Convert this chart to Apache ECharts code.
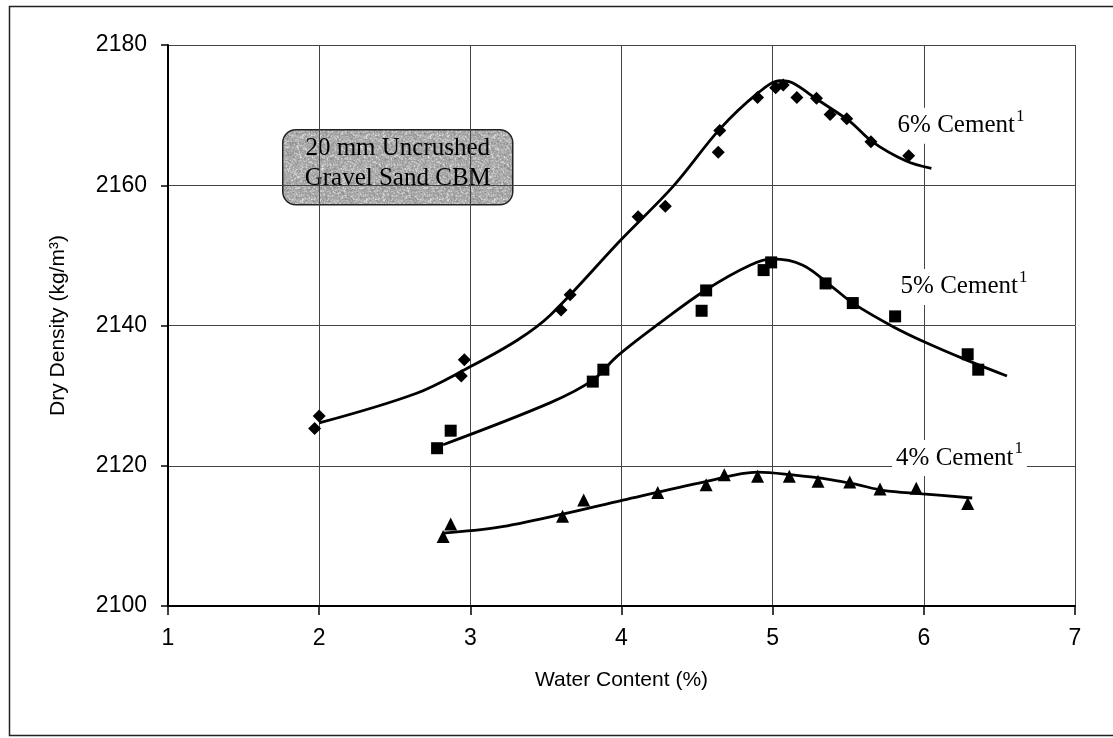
<!DOCTYPE html>
<html>
<head>
<meta charset="utf-8">
<script src="https://cdn.jsdelivr.net/npm/echarts@6/dist/echarts.min.js"></script>
<style>
  html, body { margin: 0; padding: 0; background: #ffffff; }
  #chart { width: 1113px; height: 738px; }
</style>
</head>
<body>
<div id="chart"></div>
<script>
// Measured points: [water content %, dry density kg/m³]
const cement6 = [[1.97, 2125.3], [2.00, 2127.1], [2.94, 2132.8], [2.96, 2135.1], [3.60, 2142.2], [3.66, 2144.4],
  [4.11, 2155.5], [4.29, 2157.0], [4.64, 2164.7], [4.65, 2167.8], [4.90, 2172.5], [5.02, 2173.9], [5.07, 2174.3],
  [5.16, 2172.5], [5.29, 2172.4], [5.38, 2170.1], [5.49, 2169.5], [5.65, 2166.2], [5.90, 2164.2]];
const cement5 = [[2.78, 2122.5], [2.87, 2125.0], [3.81, 2132.0], [3.88, 2133.7], [4.53, 2142.1], [4.56, 2145.0],
  [4.94, 2147.9], [4.99, 2149.0], [5.35, 2146.0], [5.53, 2143.2], [5.81, 2141.3], [6.29, 2135.9], [6.36, 2133.7]];
const cement4 = [[2.82, 2109.9], [2.87, 2111.7], [3.61, 2112.8], [3.75, 2115.1], [4.24, 2116.2], [4.56, 2117.3],
  [4.68, 2118.7], [4.90, 2118.5], [5.11, 2118.5], [5.30, 2117.8], [5.51, 2117.7], [5.71, 2116.7], [5.95, 2116.8],
  [6.29, 2114.6]];

// Compaction curves through each set
const fit6 = [[2.00, 2126.1], [2.64, 2130.3], [2.98, 2133.9], [3.31, 2137.9], [3.53, 2141.5], [4.00, 2152.3],
  [4.34, 2159.8], [4.65, 2168.0], [4.90, 2173.1], [5.05, 2174.9], [5.13, 2174.6], [5.29, 2172.3], [5.51, 2169.1],
  [5.66, 2166.2], [5.88, 2163.5], [6.05, 2162.4]];
const fit5 = [[2.82, 2123.0], [3.53, 2129.0], [3.81, 2132.2], [3.97, 2135.6], [4.25, 2140.3], [4.56, 2145.1],
  [4.85, 2148.6], [5.00, 2149.5], [5.20, 2148.6], [5.40, 2145.4], [5.53, 2143.2], [5.80, 2139.8], [6.02, 2137.5],
  [6.28, 2135.1], [6.55, 2132.8]];
const fit4 = [[2.82, 2110.4], [3.18, 2111.2], [3.61, 2113.1], [4.01, 2115.1], [4.55, 2117.7], [4.90, 2119.1],
  [5.13, 2118.7], [5.39, 2118.0], [5.56, 2117.3], [5.73, 2116.5], [5.99, 2116.0], [6.32, 2115.4]];

const curveNames = ['6% Cement', '5% Cement', '4% Cement'];
const footnoteMark = '1';
const boxLines = ['20 mm Uncrushed', 'Gravel Sand CBM'];
const xAxisTitle = 'Water Content (%)';
const yAxisTitle = 'Dry Density (kg/m³)';

// Speckled grey fill for the caption box
function grainTexture() {
  const c = document.createElement('canvas');
  c.width = 64; c.height = 64;
  const ctx = c.getContext('2d');
  const img = ctx.createImageData(64, 64);
  for (let j = 0; j < 64; j++) {
    for (let i = 0; i < 64; i++) {
      const h = Math.sin(i * 12.9898 + j * 78.233) * 43758.5453;
      const f = h - Math.floor(h);
      let g = 135 + f * 70;
      if (f > 0.93) g = 240;
      const k = (j * 64 + i) * 4;
      img.data[k] = img.data[k + 1] = img.data[k + 2] = g;
      img.data[k + 3] = 255;
    }
  }
  ctx.putImageData(img, 0, 0);
  return c;
}

const serif = '"Liberation Serif", "Times New Roman", serif';
const sans = '"Liberation Sans", Arial, sans-serif';

function curveLabel(text, coord) {
  return {
    symbol: 'circle',
    symbolSize: 0,
    silent: true,
    data: [{ coord: coord }],
    label: {
      show: true,
      position: 'right',
      distance: 0,
      formatter: '{a|' + text + '}{s|' + footnoteMark + '}',
      backgroundColor: '#ffffff',
      padding: [0, 4, 0, 4],
      rich: {
        a: { fontFamily: serif, fontSize: 25, lineHeight: 36, color: '#000' },
        s: { fontFamily: serif, fontSize: 17, lineHeight: 17, color: '#000', verticalAlign: 'top', padding: [0, 0, 0, 1] }
      }
    }
  };
}

const lineStyle = { color: '#000', width: 2.8 };
const markerStyle = { color: '#000', opacity: 1 };

const chart = echarts.init(document.getElementById('chart'), null, { renderer: 'canvas' });
chart.setOption({
  animation: false,
  backgroundColor: '#ffffff',
  grid: { left: 168, right: 38, top: 45, bottom: 132 },
  xAxis: {
    type: 'value', min: 1, max: 7, interval: 1,
    name: xAxisTitle, nameLocation: 'middle', nameGap: 64,
    nameTextStyle: { fontFamily: sans, fontSize: 21, color: '#000' },
    axisLine: { show: true, onZero: false, lineStyle: { color: '#000', width: 2 } },
    axisTick: { show: true, length: 9, lineStyle: { color: '#000', width: 1.5 } },
    axisLabel: { fontFamily: sans, fontSize: 23, color: '#000', margin: 21 },
    splitLine: { show: true, lineStyle: { color: '#444', width: 1 } }
  },
  yAxis: {
    type: 'value', min: 2100, max: 2180, interval: 20,
    name: yAxisTitle, nameLocation: 'middle', nameGap: 99,
    nameTextStyle: { fontFamily: sans, fontSize: 21, color: '#000' },
    axisLine: { show: true, lineStyle: { color: '#000', width: 2 } },
    axisTick: { show: true, length: 7, lineStyle: { color: '#000', width: 1.5 } },
    axisLabel: { fontFamily: sans, fontSize: 23, color: '#000', margin: 21, formatter: v => String(v) },
    splitLine: { show: true, lineStyle: { color: '#444', width: 1 } }
  },
  series: [
    { name: 'fit6', type: 'line', data: fit6, smooth: 0.35, symbol: 'none', lineStyle: lineStyle, z: 3,
      markPoint: curveLabel(curveNames[0], [5.80, 2168.5]) },
    { name: 'fit5', type: 'line', data: fit5, smooth: 0.35, symbol: 'none', lineStyle: lineStyle, z: 3,
      markPoint: curveLabel(curveNames[1], [5.82, 2145.5]) },
    { name: 'fit4', type: 'line', data: fit4, smooth: 0.35, symbol: 'none', lineStyle: lineStyle, z: 3,
      markPoint: curveLabel(curveNames[2], [5.79, 2121.1]) },
    { name: '6%', type: 'scatter', data: cement6, symbol: 'diamond', symbolSize: 13,
      itemStyle: markerStyle, z: 4 },
    { name: '5%', type: 'scatter', data: cement5, symbol: 'rect', symbolSize: 12,
      itemStyle: markerStyle, z: 4 },
    { name: '4%', type: 'scatter', data: cement4, symbol: 'triangle', symbolSize: 13,
      itemStyle: markerStyle, z: 4 }
  ],
  graphic: [
    {
      type: 'rect', left: 7, top: 4, silent: true, z: 100,
      shape: { width: 1120, height: 729 },
      style: { fill: 'none', stroke: '#222', lineWidth: 1.5 }
    },
    {
      type: 'group', left: 282, top: 129, z: 50,
      children: [
        {
          type: 'rect',
          shape: { x: 0, y: 0, width: 230, height: 75, r: 13 },
          style: { fill: { image: grainTexture(), repeat: 'repeat' }, stroke: '#222', lineWidth: 1.5 }
        },
        {
          type: 'text', x: 115, y: 19,
          style: { text: boxLines[0], fontFamily: serif, fontSize: 25, fill: '#000', align: 'center', verticalAlign: 'middle' }
        },
        {
          type: 'text', x: 115, y: 49,
          style: { text: boxLines[1], fontFamily: serif, fontSize: 25, fill: '#000', align: 'center', verticalAlign: 'middle' }
        }
      ]
    }
  ]
});
</script>
</body>
</html>
